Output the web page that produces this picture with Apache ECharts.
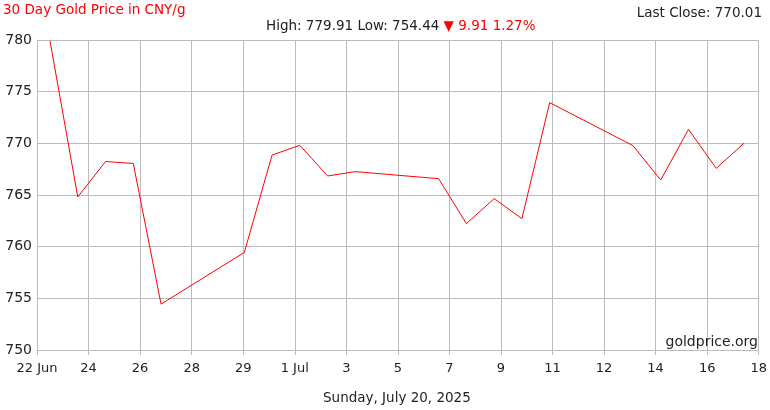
<!DOCTYPE html>
<html><head><meta charset="utf-8">
<script src="https://cdn.jsdelivr.net/npm/echarts@6/dist/echarts.min.js"></script>
<style>html,body{margin:0;padding:0;background:#fff}#c{width:770px;height:410px}</style>
</head><body><div id="c"></div>
<script>
const startDate = "2025-06-22T00:00:00Z";
const endDate = "2025-07-18T00:00:00Z";
const dates = [
  "2025-06-22T11:15:00Z","2025-06-23T11:15:00Z","2025-06-24T11:15:00Z","2025-06-25T11:15:00Z","2025-06-26T11:15:00Z",
  "2025-06-29T11:15:00Z","2025-06-30T11:15:00Z","2025-07-01T11:15:00Z","2025-07-02T11:15:00Z","2025-07-03T11:15:00Z",
  "2025-07-06T11:15:00Z","2025-07-07T11:15:00Z","2025-07-08T11:15:00Z","2025-07-09T11:15:00Z","2025-07-10T11:15:00Z",
  "2025-07-13T11:15:00Z","2025-07-14T11:15:00Z","2025-07-15T11:15:00Z","2025-07-16T11:15:00Z","2025-07-17T11:15:00Z"
];
const prices = [
  779.91, 764.81, 768.24, 768.05, 754.44,
  759.44, 768.87, 769.81, 766.84, 767.26,
  766.58, 762.23, 764.65, 762.71, 773.94,
  769.78, 766.45, 771.35, 767.58, 770.01
];
const xTickLabels = ["22 Jun","24","26","28","29","1 Jul","3","5","7","9","11","12","14","16","18"];
const yTicks = [750, 755, 760, 765, 770, 775, 780];
const titleText = "30 Day Gold Price in CNY/g";
const highText = "High: 779.91 Low: 754.44 ";
const changeText = "▼ 9.91 1.27%";
const lastCloseText = "Last Close: 770.01";
const dateText = "Sunday, July 20, 2025";
const brandText = "goldprice.org";

const DAY = 86400000;
const t0 = Date.parse(startDate);
const span = (Date.parse(endDate) - t0) / DAY;
const step = span / (xTickLabels.length - 1);
const points = dates.map((d, i) => [(Date.parse(d) - t0) / DAY, prices[i]]);

const font = "DejaVu Sans, Verdana, sans-serif";
const fs = 13.5;
const chart = echarts.init(document.getElementById('c'), null, {renderer: 'canvas'});
chart.setOption({
  animation: false,
  backgroundColor: '#fff',
  textStyle: {fontFamily: font},
  title: [
    {text: titleText, left: 3, top: 3, padding: 0, textStyle: {color: '#ff0000', fontSize: fs, fontWeight: 'normal', fontFamily: font}},
    {text: '{a|' + highText + '}{b|' + changeText + '}', left: 266, top: 19, padding: 0,
      textStyle: {fontWeight: 'normal', rich: {
        a: {color: '#222', fontSize: fs, fontWeight: 'normal', fontFamily: font},
        b: {color: '#ff0000', fontSize: fs, fontWeight: 'normal', fontFamily: font}}}},
    {text: lastCloseText, right: 8, top: 6, padding: 0, textStyle: {color: '#222', fontSize: fs, fontWeight: 'normal', fontFamily: font}},
    {text: dateText, left: 323, top: 391, padding: 0, textStyle: {color: '#222', fontSize: fs, fontWeight: 'normal', fontFamily: font}},
    {text: brandText, right: 12, top: 335, padding: 0, textStyle: {color: '#222', fontSize: 14, fontWeight: 'normal', fontFamily: font}}
  ],
  grid: {left: 37, right: 11, top: 40, bottom: 60, containLabel: false},
  xAxis: {
    type: 'value', min: 0, max: span, interval: step,
    axisLine: {show: true, lineStyle: {color: '#bbb', width: 1}},
    axisTick: {show: true, length: 5, lineStyle: {color: '#bbb'}},
    splitLine: {show: true, lineStyle: {color: '#bbb', width: 1}},
    axisLabel: {color: '#222', fontSize: 13, fontFamily: font, margin: 12, showMinLabel: true, showMaxLabel: true,
      formatter: v => xTickLabels[Math.round(v / step)] || ''}
  },
  yAxis: {
    type: 'value', min: yTicks[0], max: yTicks[yTicks.length - 1], interval: yTicks[1] - yTicks[0],
    axisLine: {show: true, lineStyle: {color: '#bbb', width: 1}},
    axisTick: {show: false},
    splitLine: {show: true, lineStyle: {color: '#bbb', width: 1}},
    axisLabel: {color: '#222', fontSize: 14, fontFamily: font, margin: 5}
  },
  series: [{
    type: 'line', data: points, showSymbol: false, symbol: 'none',
    lineStyle: {color: '#ff0000', width: 1}, itemStyle: {color: '#ff0000'}
  }]
});
</script></body></html>
